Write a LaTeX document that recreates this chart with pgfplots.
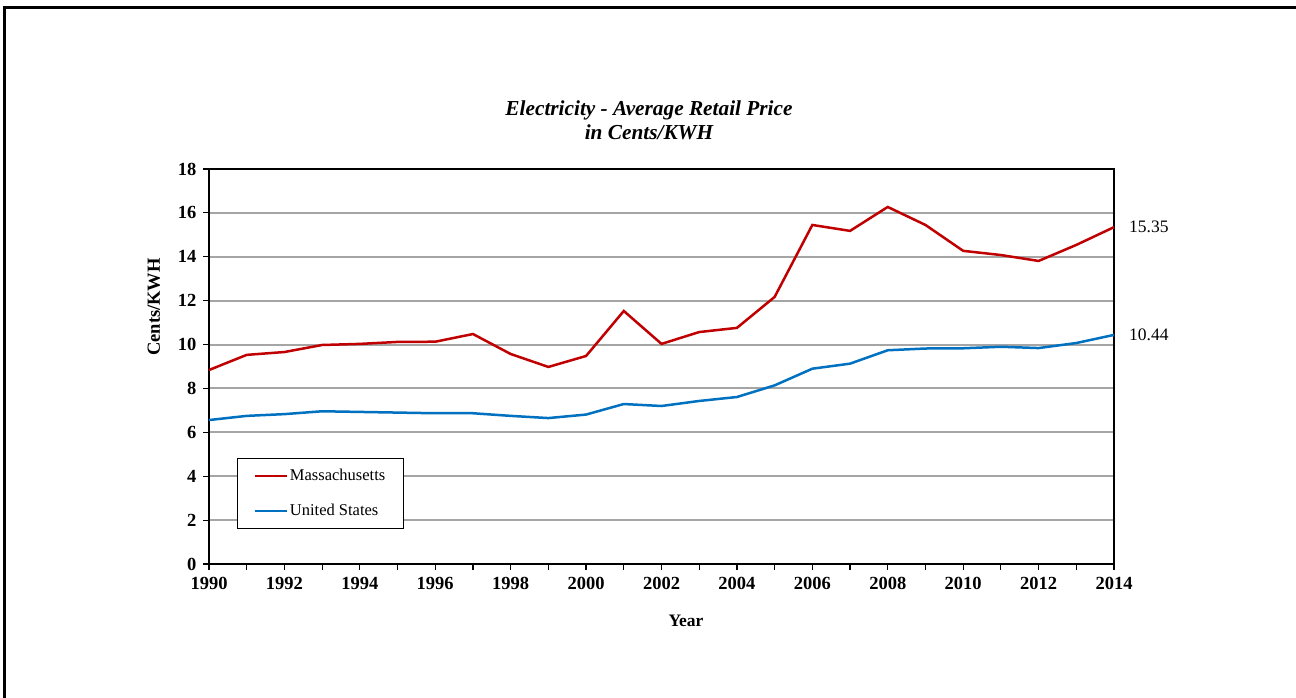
\documentclass[border=0pt]{standalone}
\usepackage{fontspec}
\setmainfont{Liberation Serif}
\usepackage{pgfplots}
\pgfplotsset{compat=1.18}

\definecolor{maRed}{RGB}{192,0,0}
\definecolor{usBlue}{RGB}{0,112,192}
\definecolor{gridGray}{RGB}{165,165,165}

\begin{document}
\begin{tikzpicture}[x=1pt,y=1pt]
% page frame
\path[use as bounding box] (0,0) rectangle (1296,-698);
\draw[line width=3pt] (4.5,-698) -- (4.5,-7.3) -- (1296,-7.3);

\node[align=center, font=\fontsize{21.3}{24}\selectfont\bfseries\itshape] at (649,-120)
  {Electricity - Average Retail Price\\in Cents/KWH};
\node[rotate=90, font=\fontsize{18.5}{20}\selectfont\bfseries] at (154,-307) {Cents/KWH};
\node[font=\fontsize{17.5}{20}\selectfont\bfseries] at (686,-621) {Year};

\begin{axis}[
  at={(209pt,-564pt)}, anchor=south west,
  scale only axis, width=905pt, height=395pt,
  clip=false,
  xmin=1990, xmax=2014, ymin=0, ymax=18,
  xtick={1990,1992,...,2014}, minor xtick={1991,1993,...,2013},
  ytick={0,2,...,18},
  tick align=outside, major tick length=6pt, minor tick length=6pt,
  xtick pos=bottom, ytick pos=left,
  every tick/.style={black, line width=1.2pt},
  every minor tick/.style={black, line width=1.2pt},
  /pgf/number format/assume math mode=true,
  /pgf/number format/1000 sep={},
  ticklabel style={font=\fontsize{18.5}{20}\selectfont\bfseries},
  xticklabel style={yshift=-4pt},
  yticklabel style={xshift=-3pt},
  ymajorgrids, major grid style={gridGray, line width=2pt},
  axis line style={black, line width=2pt},
  legend cell align=left,
  legend style={at={(0.031,0.268)}, anchor=north west, draw=black, line width=0.8pt,
    font=\fontsize{16.5}{20}\selectfont, inner xsep=16pt, inner ysep=9pt, row sep=18pt},
  legend image code/.code={\draw[#1, line width=2.5pt] (0pt,0pt) -- (32pt,0pt);},
]
\addplot[maRed, line width=2.5pt] coordinates {
(1990,8.84) (1991,9.53) (1992,9.66) (1993,9.98) (1994,10.03) (1995,10.12)
(1996,10.13) (1997,10.48) (1998,9.57) (1999,8.98) (2000,9.48) (2001,11.53)
(2002,10.03) (2003,10.57) (2004,10.76) (2005,12.17) (2006,15.45) (2007,15.18)
(2008,16.27) (2009,15.45) (2010,14.27) (2011,14.08) (2012,13.81) (2013,14.54)
(2014,15.35)
};
\addlegendentry{Massachusetts}
\addplot[usBlue, line width=2.5pt] coordinates {
(1990,6.56) (1991,6.75) (1992,6.83) (1993,6.96) (1994,6.93) (1995,6.90)
(1996,6.87) (1997,6.87) (1998,6.75) (1999,6.65) (2000,6.81) (2001,7.29)
(2002,7.20) (2003,7.43) (2004,7.61) (2005,8.14) (2006,8.90) (2007,9.13)
(2008,9.74) (2009,9.82) (2010,9.83) (2011,9.90) (2012,9.84) (2013,10.07)
(2014,10.44)
};
\addlegendentry{United States}
\node[anchor=west, inner sep=0pt, xshift=15pt, font=\fontsize{17.5}{20}\selectfont] at (axis cs:2014,15.35) {15.35};
\node[anchor=west, inner sep=0pt, xshift=15pt, font=\fontsize{17.5}{20}\selectfont] at (axis cs:2014,10.44) {10.44};
\end{axis}
\end{tikzpicture}
\end{document}
